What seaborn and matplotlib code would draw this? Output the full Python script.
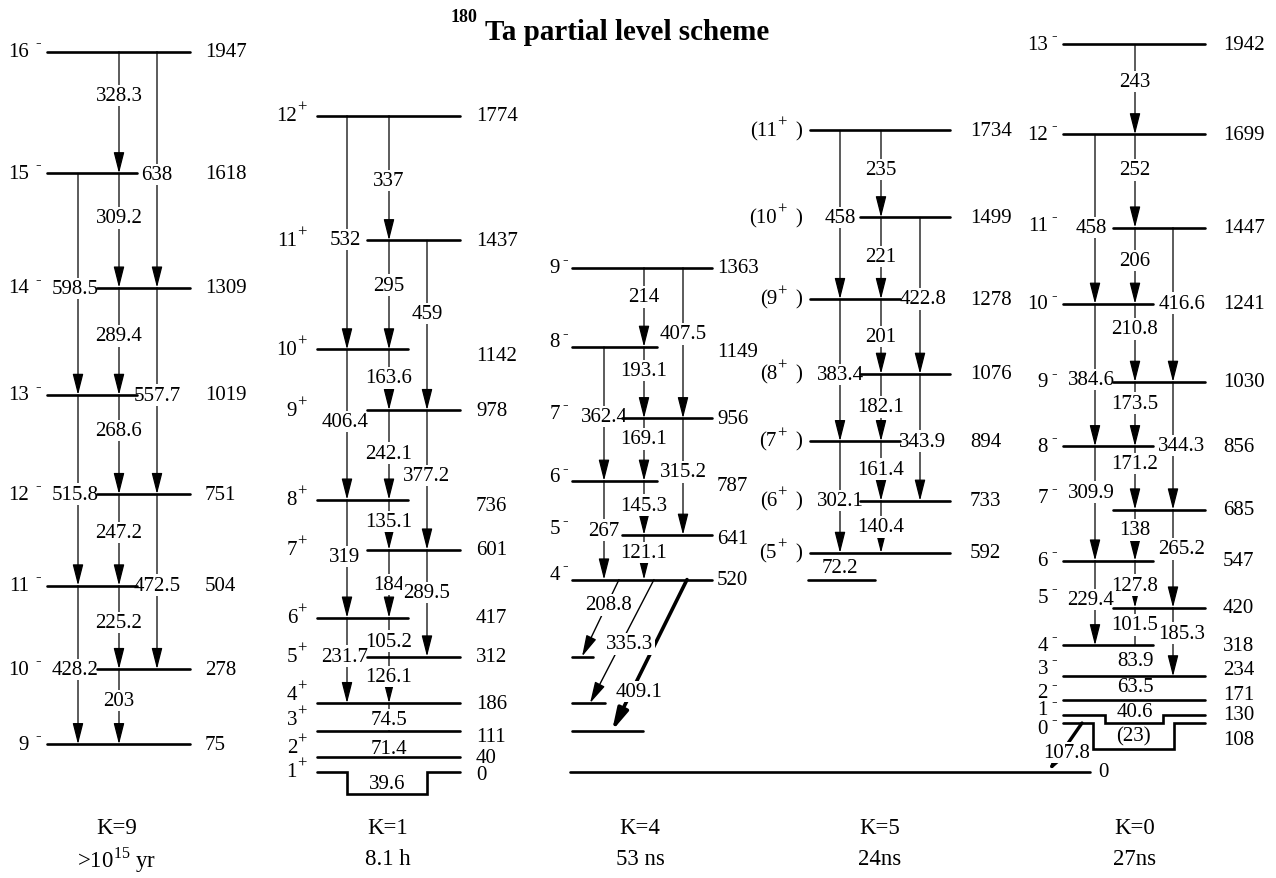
import matplotlib
matplotlib.use("Agg")
import matplotlib.pyplot as plt
from matplotlib.transforms import offset_copy
import pandas as pd
import seaborn as sns

# ---- data: level energies (keV), spins, gamma rays ----
K9_E = [1947, 1618, 1309, 1019, 751, 504, 278, 75]
K9_J = ["16", "15", "14", "13", "12", "11", "10", "9"]
K9_G = [(1947, 1618, "328.3"), (1947, 1309, "638"), (1618, 1309, "309.2"),
        (1618, 1019, "598.5"), (1309, 1019, "289.4"), (1309, 751, "557.7"),
        (1019, 751, "268.6"), (1019, 504, "515.8"), (751, 504, "247.2"),
        (751, 278, "472.5"), (504, 278, "225.2"), (504, 75, "428.2"),
        (278, 75, "203")]

K1_E = [1774, 1437, 1142, 978, 736, 601, 417, 312, 186, 111, 40, 0]
K1_J = ["12", "11", "10", "9", "8", "7", "6", "5", "4", "3", "2", "1"]
K1_G = [(1774, 1142, "532"), (1774, 1437, "337"), (1437, 1142, "295"),
        (1437, 978, "459"), (1142, 978, "163.6"), (1142, 736, "406.4"),
        (978, 736, "242.1"), (978, 601, "377.2"), (736, 601, "135.1"),
        (736, 417, "319"), (601, 417, "184"), (601, 312, "289.5"),
        (417, 312, "105.2"), (417, 186, "231.7"), (312, 186, "126.1"),
        (186, 111, "74.5"), (111, 40, "71.4"), (40, 0, "39.6")]

K4_E = [1363, 1149, 956, 787, 641, 520]
K4_J = ["9", "8", "7", "6", "5", "4"]
K4_G = [(1363, 1149, "214"), (1363, 956, "407.5"), (1149, 956, "193.1"),
        (1149, 787, "362.4"), (956, 787, "169.1"), (956, 641, "315.2"),
        (787, 641, "145.3"), (787, 520, "267"), (641, 520, "121.1")]
K4_OUT = [(520, 312, "208.8"), (520, 186, "335.3"), (520, 111, "409.1")]
K4_LOW = [312, 186, 111]
GROUND = 0

K5_E = [1734, 1499, 1278, 1076, 894, 733, 592]
K5_J = ["(11", "(10", "(9", "(8", "(7", "(6", "(5"]
K5_G = [(1734, 1499, "235"), (1734, 1278, "458"), (1499, 1278, "221"),
        (1499, 1076, "422.8"), (1278, 1076, "201"), (1278, 894, "383.4"),
        (1076, 894, "182.1"), (1076, 733, "343.9"), (894, 733, "161.4"),
        (894, 592, "302.1"), (733, 592, "140.4"), (592, 520, "72.2")]
K5_LOW = [520]

K0_E = [1942, 1699, 1447, 1241, 1030, 856, 685, 547, 420, 318, 234, 171, 130, 108]
K0_J = ["13", "12", "11", "10", "9", "8", "7", "6", "5", "4", "3", "2", "1", "0"]
K0_G = [(1942, 1699, "243"), (1699, 1447, "252"), (1699, 1241, "458"),
        (1447, 1241, "206"), (1447, 1030, "416.6"), (1241, 1030, "210.8"),
        (1241, 856, "384.6"), (1030, 856, "173.5"), (1030, 685, "344.3"),
        (856, 685, "171.2"), (856, 547, "309.9"), (685, 547, "138"),
        (685, 420, "265.2"), (547, 420, "127.8"), (547, 318, "229.4"),
        (420, 318, "101.5"), (420, 234, "185.3"), (318, 234, "83.9"),
        (234, 171, "63.5"), (171, 130, "40.6"), (130, 108, "(23)"),
        (108, 0, "107.8")]

BAND_TAG = ["K=9", "K=1", "K=4", "K=5", "K=0"]
BAND_LIFE = [">10$^{\\mathrm{15}}$ yr", "8.1 h", "53 ns", "24ns", "27ns"]
BAND_PAR = ["-", "+", "-", "+", "-"]

# ---- drawing layout (x in pixels of the 1276 px wide page) ----
W, H = 1276, 879
PX_PER_KEV = 0.37
GROUND_ROW = 773
FS = 15

LAYOUT = [
    dict(full=(47, 190), left=137, right=97, col=(78, 119, 157), xj=29, sg=6, xe=205,
         ext="flrlrlrf", gcol="MRMLMRMLMRMLM", kind="a" * 13,
         t=[.36, .52, .39, .52, .45, .52, .36, .52, .42, .52, .44, .53, .42],
         ldx={"L": -3}, joff={}, eoff={}, dy=0, tag=117),
    dict(full=(317, 460), left=408, right=367, col=(347, 389, 427), xj=297, sg=0, xe=476,
         ext="frlrlrlrfffn", notch={0: (347, 427, 60)},
         gcol="LMMRMLMRMLMRMLMMMM", kind="aaaaaaaaaaaataatnq",
         t=[.53, .52, .41, .43, .47, .48, .48, .47, .44, .48, .51, .40, .60, .45, .43, .59, .65, 0],
         ldx={"L": -2}, joff={186: 9, 111: 11, 40: 10},
         eoff={1142: -6, 736: -6, 111: -6, 0: -3}, dy=0, tag=388),
    dict(full=(572, 712), left=657, right=622, col=(604, 644, 683), xj=560, sg=2, xe=717,
         ext="flrlrf", gcol="MRMLMRMLMMMM", kind="aaaaaaaaaddd",
         t=[.37, .44, .33, .52, .33, .46, .45, .5, .4, .33, .52, .74],
         diag=[(619, 582, 1.0, 2), (654, 590, 1.0, 9), (687, 612, 2.6, 8)],
         low=[(572, 593), (572, 605), (572, 643)], ground=(570, 1090, 1098),
         ldx={}, joff={1149: 5, 956: 5, 787: 4, 641: 6, 520: 5},
         eoff={1149: -5, 787: -5, 641: -4}, dy=0, tag=640),
    dict(full=(810, 950), left=900, right=860, col=(840, 881, 920), xj=777, sg=0, xe=970,
         paren=True, ext="frlrlrf", gcol="MLMRMLMRMLML", kind="aaaaaaaaaaan",
         t=[.45, .515, .48, .52, .5, .53, .49, .53, .47, .53, .5, .55],
         low=[(808, 875)], ldx={"R": 3}, joff={}, eoff={}, dy=0, tag=880),
    dict(full=(1063, 1205), left=1153, right=1113, col=(1095, 1135, 1173), xj=1048, sg=3,
         xe=1223, ext="ffrlrlrlrlffnn", notch={130: (1105, 1163, 22), 108: (1093, 1174, 70)},
         gcol="MMLMRMLMRMLMRMLMRMMMMM", kind="aaaaaaaaaaaaaaatannnqd",
         t=[.41, .38, .55, .43, .49, .32, .53, .33, .5, .27, .4, .4, .4, .52, .46, .46,
            .37, .5, .45, .78, 0, .6],
         diag=[(1082, 1048, 2.4, 5)], ldx={"R": 9, "L": -4},
         joff={1447: 2, 685: 12, 420: 10, 234: 8, 171: 7, 130: 5, 108: -5},
         eoff={234: 7, 171: 5, 108: -16}, dy=9, tag=1135),
]

BANDS = [(K9_E, K9_J, K9_G, []), (K1_E, K1_J, K1_G, []),
         (K4_E, K4_J, K4_G + K4_OUT, K4_LOW), (K5_E, K5_J, K5_G, K5_LOW),
         (K0_E, K0_J, K0_G, [])]

sns.set_theme(style="white")
plt.rcParams["font.family"] = ["Liberation Serif", "DejaVu Serif"]
plt.rcParams["mathtext.fontset"] = "custom"
plt.rcParams["mathtext.rm"] = "Liberation Serif"
plt.rcParams["lines.solid_joinstyle"] = "miter"
plt.rcParams["text.color"] = "black"

fig = plt.figure(figsize=(W / 100, H / 100), dpi=100)
ax = fig.add_axes([0, 0, 1, 1])

LEVEL_LW = 1.9
GAMMA_LW = 0.9
HEAD = "-|>,head_length=1.3,head_width=0.33"
BOX = dict(boxstyle="square,pad=0.06", fc="white", ec="none")
PT = 0.72  # points per pixel


def gamma(x0, e0, x1, e1, tr0, tr1, lw, head=True):
    ax.annotate("", xy=(x1, e1), xytext=(x0, e0), xycoords=tr1, textcoords=tr0,
                arrowprops=dict(arrowstyle=HEAD if head else "-", color="black",
                                lw=lw, shrinkA=0, shrinkB=0, mutation_scale=10),
                zorder=2)


for (E, J, G, LOW), lay, par in zip(BANDS, LAYOUT, BAND_PAR):
    tr = offset_copy(ax.transData, fig=fig, y=lay["dy"], units="dots")
    cols = dict(zip("LMR", lay["col"]))
    x0, x1 = lay["full"]

    # level lines
    rows = []
    for i, (e, code) in enumerate(zip(E, lay["ext"])):
        if code == "f":
            pts = [(x0, e), (x1, e)]
        elif code == "l":
            pts = [(x0, e), (lay["left"], e)]
        elif code == "r":
            pts = [(lay["right"], e), (x1, e)]
        else:
            a, c, d = lay["notch"][e]
            pts = [(x0, e), (a, e), (a, e - d), (c, e - d), (c, e), (x1, e)]
        rows += [(i, x, y) for x, y in pts]
    for j, (e, (a, c)) in enumerate(zip(LOW, lay.get("low", []))):
        rows += [(100 + j, a, e), (100 + j, c, e)]
    if "ground" in lay:
        a, c, _ = lay["ground"]
        rows += [(200, a, GROUND), (200, c, GROUND)]
    df = pd.DataFrame(rows, columns=["lvl", "x", "E"])
    n0 = len(ax.lines)
    sns.lineplot(data=df, x="x", y="E", units="lvl", estimator=None, sort=False,
                 color="black", linewidth=LEVEL_LW, legend=False, ax=ax)
    for ln in ax.lines[n0:]:
        if not (len(ln.get_ydata()) == 2 and ln.get_ydata()[0] == GROUND and "ground" in lay):
            ln.set_transform(tr)
        ln.set_zorder(4)
    if "ground" in lay:
        ax.text(lay["ground"][2], GROUND, str(GROUND), ha="left", va="center", fontsize=FS)

    # spins and energies
    for e, j in zip(E, J):
        up = lay["joff"].get(e, 0)
        ax.annotate(j, xy=(lay["xj"], e), xycoords=tr, xytext=(0, up * PT),
                    textcoords="offset points", ha="right", va="center", fontsize=FS)
        ax.annotate(par, xy=(lay["xj"], e), xycoords=tr,
                    xytext=(lay["sg"] * PT, (up + 9) * PT), textcoords="offset points",
                    ha="left", va="center", fontsize=12)
        if lay.get("paren"):
            ax.annotate(")", xy=(lay["xj"], e), xycoords=tr, xytext=(18 * PT, up * PT),
                        textcoords="offset points", ha="left", va="center", fontsize=FS)
        ax.annotate(str(e), xy=(lay["xe"], e), xycoords=tr,
                    xytext=(0, lay["eoff"].get(e, 0) * PT), textcoords="offset points",
                    ha="left", va="center", fontsize=FS)

    # gamma rays
    diags = iter(lay.get("diag", []))
    for (ef, et, s), c, k, t in zip(G, lay["gcol"], lay["kind"], lay["t"]):
        x = cols[c]
        ltr = tr
        if k in "at":
            gamma(x, ef, x, et, tr, tr, GAMMA_LW, head=(k == "a"))
            lx, le = x + lay["ldx"].get(c, 0), ef - t * (ef - et)
        elif k == "n":
            lx, le = x + lay["ldx"].get(c, 0), ef - t * (ef - et)
        elif k == "q":
            a, c2, d = lay["notch"][et]
            lx, le = (a + c2) / 2, et - d / 2
        else:
            xa, xb, lw, dx = next(diags)
            tr_end = ax.transData if et == GROUND else tr
            gamma(xa, ef, xb, et, tr, tr_end, lw)
            lx, le = xa + t * (xb - xa) + dx, ef - t * (ef - et)
            if et == GROUND:
                ltr = offset_copy(ax.transData, fig=fig, y=lay["dy"] * (1 - t), units="dots")
        ax.text(lx, le, s, transform=ltr, ha="center", va="center", fontsize=FS,
                bbox=BOX, zorder=3)

# band tag and half-life under each column
for lay, tag, life in zip(LAYOUT, BAND_TAG, BAND_LIFE):
    ax.text(lay["tag"], 1 - 829 / H, tag, transform=ax.get_xaxis_transform(),
            ha="center", va="center", fontsize=16.5)
    ax.text(lay["tag"], 1 - 860 / H, life, transform=ax.get_xaxis_transform(),
            ha="center", va="center", fontsize=16.5)

ax.text(485, 1 - 40 / H, "Ta partial level scheme", transform=ax.get_xaxis_transform(),
        ha="left", va="baseline", fontsize=21, fontweight="bold")
ax.text(477, 1 - 22 / H, "180", transform=ax.get_xaxis_transform(),
        ha="right", va="baseline", fontsize=13, fontweight="bold")

ax.set_xlim(0, W)
ax.set_ylim(-(H - GROUND_ROW) / PX_PER_KEV, GROUND_ROW / PX_PER_KEV)
ax.axis("off")

fig.savefig("out.png", dpi=100)
